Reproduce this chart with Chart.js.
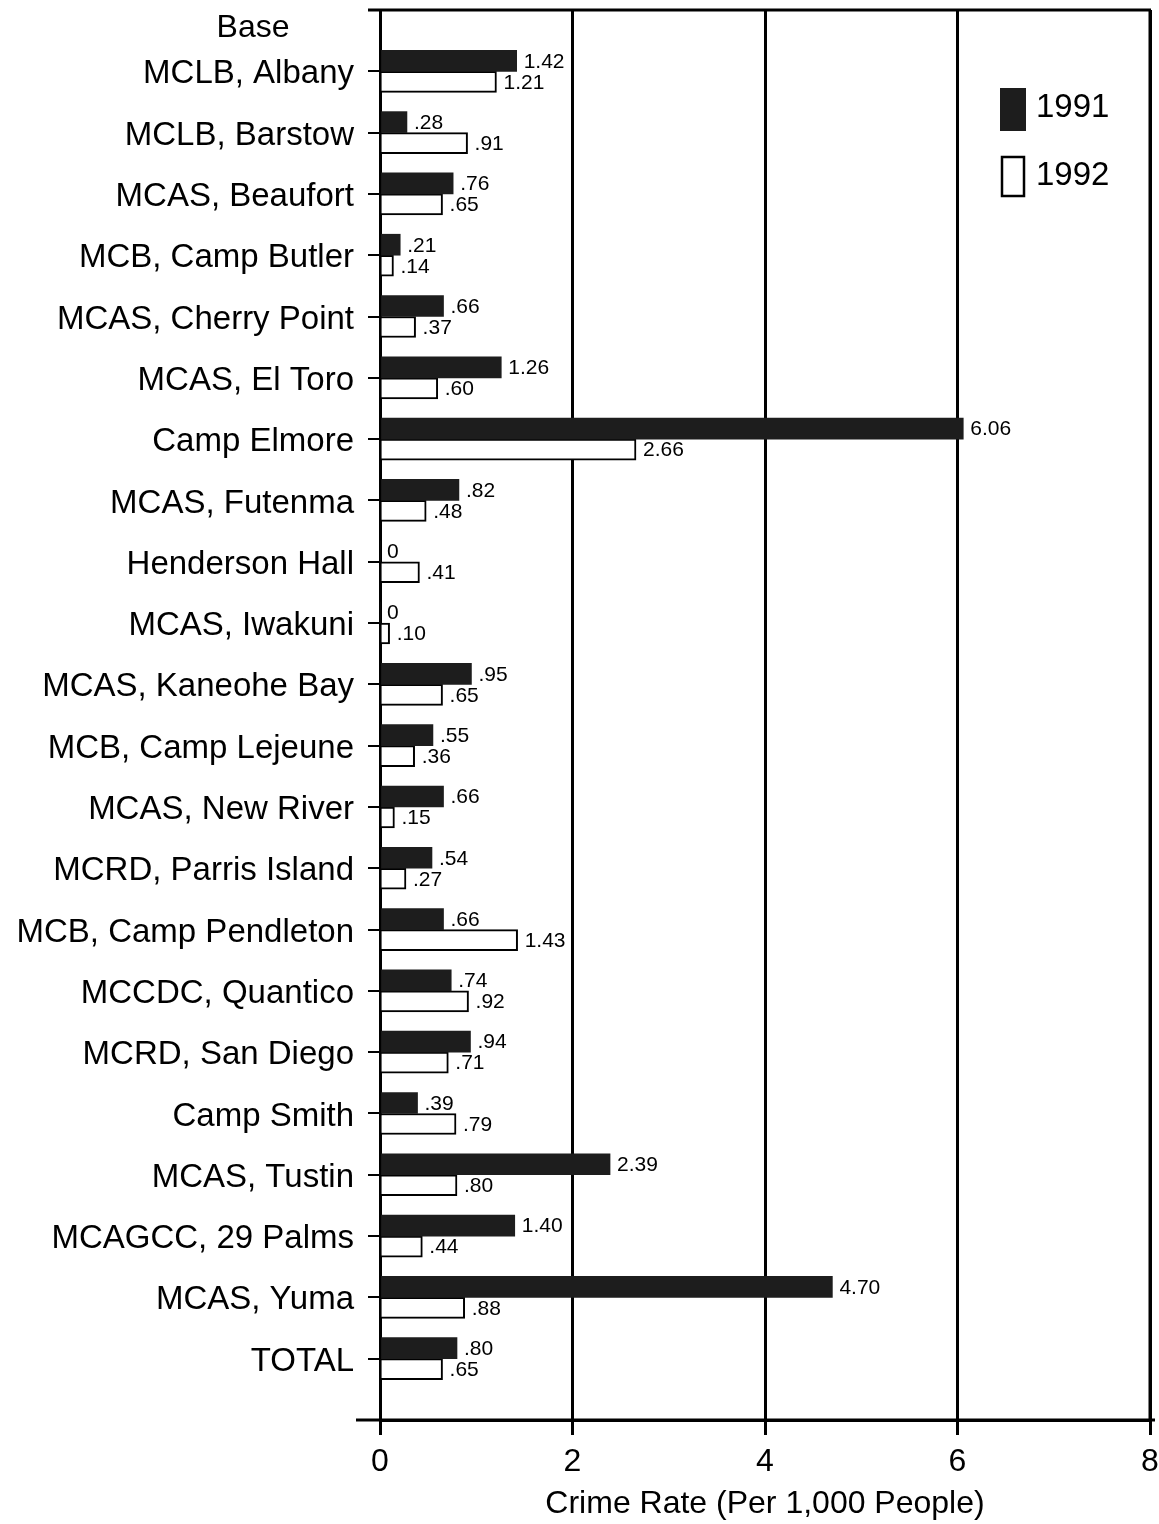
<!DOCTYPE html>
<html>
<head>
<meta charset="utf-8">
<script src="https://cdn.jsdelivr.net/npm/chart.js@4/dist/chart.umd.min.js"></script>
<style>
  body { margin: 0; background: #fff; }
  #wrap { width: 1159px; height: 1524px; }
</style>
</head>
<body>
<div id="wrap"><canvas id="chart" width="1159" height="1524"></canvas></div>
<script>
const ctx = document.getElementById("chart");

const bases = [
  "MCLB, Albany", "MCLB, Barstow", "MCAS, Beaufort", "MCB, Camp Butler",
  "MCAS, Cherry Point", "MCAS, El Toro", "Camp Elmore", "MCAS, Futenma",
  "Henderson Hall", "MCAS, Iwakuni", "MCAS, Kaneohe Bay", "MCB, Camp Lejeune",
  "MCAS, New River", "MCRD, Parris Island", "MCB, Camp Pendleton", "MCCDC, Quantico",
  "MCRD, San Diego", "Camp Smith", "MCAS, Tustin", "MCAGCC, 29 Palms",
  "MCAS, Yuma", "TOTAL"
];
const rate1991 = [1.42, 0.28, 0.76, 0.21, 0.66, 1.26, 6.06, 0.82, 0, 0, 0.95, 0.55,
  0.66, 0.54, 0.66, 0.74, 0.94, 0.39, 2.39, 1.40, 4.70, 0.80];
const rate1992 = [1.21, 0.91, 0.65, 0.14, 0.37, 0.60, 2.66, 0.48, 0.41, 0.10, 0.65, 0.36,
  0.15, 0.27, 1.43, 0.92, 0.71, 0.79, 0.80, 0.44, 0.88, 0.65];
const xTicks = [0, 2, 4, 6, 8];

const FONT = "'Liberation Sans', Arial, Helvetica, sans-serif";
const DARK = "#1d1d1d";

// blank slots above the first base and below TOTAL
const labels = ["", ...bases, ""];
const pad = (arr) => [null, ...arr, null];

function fmt(v) {
  if (v === 0) return "0";
  return v.toFixed(2).replace(/^0\./, ".");
}

const extras = {
  id: "extras",
  afterDatasetsDraw(chart) {
    const c = chart.ctx;
    const area = chart.chartArea;
    c.save();
    // frame lines
    c.strokeStyle = "#000";
    c.lineWidth = 3;
    c.beginPath();
    c.moveTo(368, area.top);
    c.lineTo(area.right + 1, area.top);
    c.moveTo(area.right, area.top);
    c.lineTo(area.right, area.bottom);
    c.moveTo(356, area.bottom);
    c.lineTo(area.right + 5, area.bottom);
    c.stroke();

    // value labels
    c.fillStyle = "#000";
    c.font = "21px " + FONT;
    c.textAlign = "left";
    c.textBaseline = "middle";
    chart.data.datasets.forEach((ds, i) => {
      chart.getDatasetMeta(i).data.forEach((el, j) => {
        const v = ds.data[j];
        if (v === null || v === undefined) return;
        c.fillText(fmt(v), el.x + 7, el.y + 1);
      });
    });

    // "Base" heading
    c.font = "32px " + FONT;
    c.textAlign = "center";
    c.fillText("Base", 253, 28);

    // legend
    c.fillStyle = DARK;
    c.fillRect(1000, 88, 26, 43);
    c.fillStyle = "#fff";
    c.fillRect(1002, 157, 22, 39);
    c.lineWidth = 2.5;
    c.strokeStyle = "#000";
    c.strokeRect(1002, 157, 22, 39);
    c.fillStyle = "#000";
    c.font = "33px " + FONT;
    c.textAlign = "left";
    c.fillText("1991", 1036, 108);
    c.fillText("1992", 1036, 176);
    c.restore();
  }
};

new Chart(ctx, {
  type: "bar",
  data: {
    labels: labels,
    datasets: [
      {
        label: "1991",
        data: pad(rate1991),
        backgroundColor: DARK,
        borderWidth: 0,
        barThickness: 21
      },
      {
        label: "1992",
        data: pad(rate1992),
        backgroundColor: "#fff",
        borderColor: "#000",
        borderWidth: 2,
        barThickness: 21
      }
    ]
  },
  options: {
    responsive: false,
    animation: false,
    indexAxis: "y",
    layout: { padding: { top: 10, right: 9, bottom: 0, left: 0 } },
    scales: {
      x: {
        min: 0,
        max: 8,
        afterBuildTicks: (scale) => {
          scale.ticks = xTicks.map((v) => ({ value: v }));
        },
        afterFit: (scale) => {
          scale.height = 104;
          scale.paddingLeft = 0;
          scale.paddingRight = 0;
        },
        grid: {
          color: "#000",
          lineWidth: 3,
          tickLength: 15
        },
        border: { display: true, color: "#000", width: 3 },
        ticks: {
          color: "#000",
          padding: 8,
          font: { family: FONT, size: 32 }
        },
        title: {
          display: true,
          text: "Crime Rate (Per 1,000 People)",
          color: "#000",
          padding: { top: 0, bottom: 1 },
          font: { family: FONT, size: 32 }
        }
      },
      y: {
        offset: false,
        afterFit: (scale) => {
          scale.width = 380;
          scale.paddingTop = 0;
          scale.paddingBottom = 0;
        },
        grid: {
          offset: false,
          drawOnChartArea: false,
          color: "#000",
          lineWidth: 2,
          tickLength: 12
        },
        border: { display: true, color: "#000", width: 3 },
        ticks: {
          color: "#000",
          padding: 14,
          labelOffset: 3,
          autoSkip: false,
          font: { family: FONT, size: 33 }
        }
      }
    },
    plugins: {
      legend: { display: false },
      tooltip: { enabled: false }
    }
  },
  plugins: [extras]
});
</script>
</body>
</html>
